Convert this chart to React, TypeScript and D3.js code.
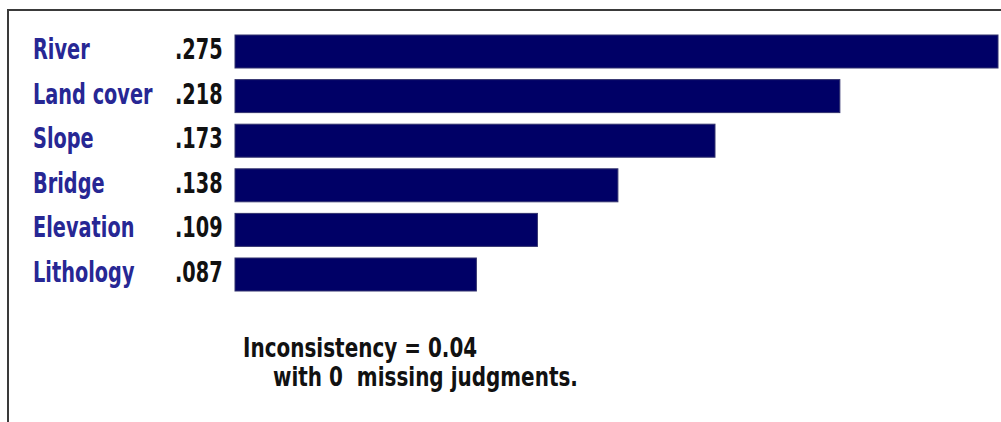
import React from "react";
import * as d3 from "d3";

const categories: string[] = ["River", "Land cover", "Slope", "Bridge", "Elevation", "Lithology"];
const weights: number[] = [0.275, 0.218, 0.173, 0.138, 0.109, 0.087];
const valueLabels: string[] = [".275", ".218", ".173", ".138", ".109", ".087"];
const noteLines: string[] = ["Inconsistency = 0.04", "with 0  missing judgments."];

const W = 1001;
const H = 422;
const FONT = "'DejaVu Sans', Verdana, sans-serif";
const SX = 0.69;
const SX_NOTE = 0.74;

export default function App() {
  const x = d3.scaleLinear().domain([0, 0.275]).range([235, 998]);
  const y = d3
    .scaleBand<string>()
    .domain(categories)
    .range([35, 291])
    .paddingInner(0.26)
    .paddingOuter(0);

  const frame = d3.path();
  frame.moveTo(W, 10);
  frame.lineTo(8, 10);
  frame.lineTo(8, H);

  return (
    <svg
      width={W}
      height={H}
      style={{ position: "fixed", left: 0, top: 0, background: "#ffffff" }}
    >
      <path d={frame.toString()} fill="none" stroke="#3a3a3a" strokeWidth={2} />
      {categories.map((c, i) => {
        const yc = (y(c) as number) + y.bandwidth() / 2;
        return (
          <g key={c}>
            <rect
              x={x(0)}
              y={y(c)}
              width={x(weights[i]) - x(0)}
              height={y.bandwidth()}
              fill="#000066"
              stroke="#33336e"
              strokeWidth={1}
            />
            <text
              transform={`translate(33,${yc + 7.5}) scale(${SX},1)`}
              fontFamily={FONT}
              fontWeight="bold"
              fontSize={28}
              fill="#272794"
            >
              {c}
            </text>
            <text
              transform={`translate(175,${yc + 7.5}) scale(${SX},1)`}
              fontFamily={FONT}
              fontWeight="bold"
              fontSize={28}
              fill="#111111"
            >
              {valueLabels[i]}
            </text>
          </g>
        );
      })}
      <text
        transform={`translate(243,357) scale(${SX_NOTE},1)`}
        fontFamily={FONT}
        fontWeight="bold"
        fontSize={27}
        fill="#111111"
        style={{ whiteSpace: "pre" }}
      >
        {noteLines[0]}
      </text>
      <text
        transform={`translate(273,386) scale(${SX_NOTE},1)`}
        fontFamily={FONT}
        fontWeight="bold"
        fontSize={27}
        fill="#111111"
        style={{ whiteSpace: "pre" }}
      >
        {noteLines[1]}
      </text>
    </svg>
  );
}
